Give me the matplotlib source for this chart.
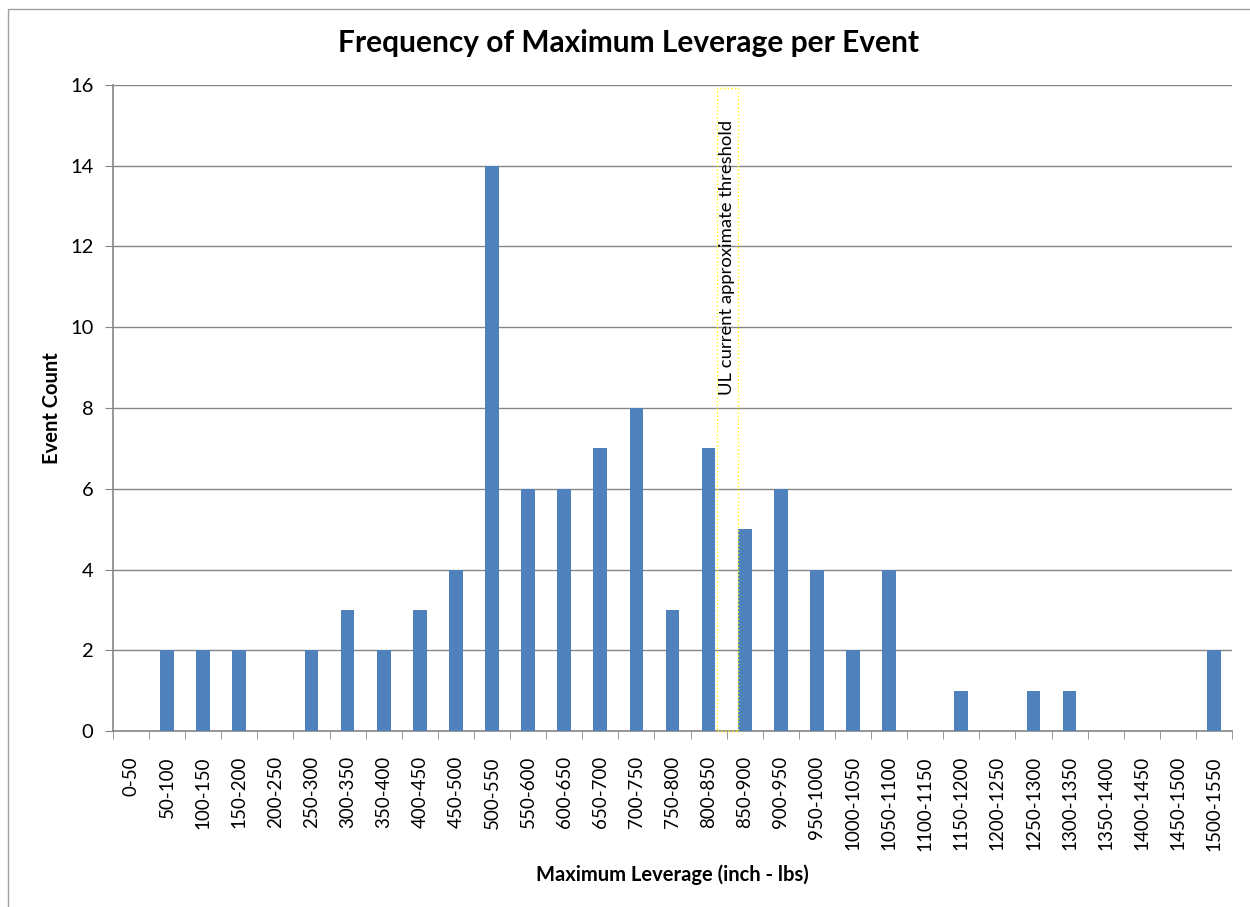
import numpy as np
import matplotlib.pyplot as plt
from matplotlib.patches import Rectangle

plt.rcParams['font.family'] = ['Lato', 'DejaVu Sans']

bins = ['0-50', '50-100', '100-150', '150-200', '200-250', '250-300', '300-350',
        '350-400', '400-450', '450-500', '500-550', '550-600', '600-650', '650-700',
        '700-750', '750-800', '800-850', '850-900', '900-950', '950-1000',
        '1000-1050', '1050-1100', '1100-1150', '1150-1200', '1200-1250',
        '1250-1300', '1300-1350', '1350-1400', '1400-1450', '1450-1500', '1500-1550']
counts = [0, 2, 2, 2, 0, 2, 3, 2, 3, 4, 14, 6, 6, 7, 8, 3, 7, 5, 6, 4,
          2, 4, 0, 1, 0, 1, 1, 0, 0, 0, 2]

fig = plt.figure(figsize=(12.5, 9.07), dpi=100)
ax = fig.add_axes([0.0904, 0.194, 0.8952, 0.7123])

x = np.arange(len(bins))
ax.bar(x, counts, width=0.38, color='#4F81BD', zorder=3)

ax.set_xlim(-0.5, len(bins) - 0.5)
ax.set_ylim(0, 16)
ax.set_yticks(range(0, 17, 2))
ax.set_xticks(x)
ax.set_xticklabels(bins, rotation=90, fontsize=13.5)
ax.set_xticks(np.arange(-0.5, len(bins)), minor=True)
ax.tick_params(axis='x', which='major', length=0, pad=18)
ax.tick_params(axis='x', which='minor', length=6, color='#868686', direction='out')
ax.tick_params(axis='y', length=6, color='#868686', direction='out', labelsize=14.5, pad=8)

ax.yaxis.grid(True, color='#868686', linewidth=1, zorder=0)
for s in ['top', 'right']:
    ax.spines[s].set_visible(False)
for s in ['left', 'bottom']:
    ax.spines[s].set_color('#868686')
    ax.spines[s].set_linewidth(1.2)

fig.text(0.503, 0.953, 'Frequency of Maximum Leverage per Event', fontsize=21.5,
         fontweight='bold', ha='center', va='center')
ax.set_xlabel('Maximum Leverage (inch - lbs)', fontsize=14.5, fontweight='bold', labelpad=10)
ax.set_ylabel('Event Count', fontsize=14.5, fontweight='bold', labelpad=6)

# threshold annotation box
ax.add_patch(Rectangle((16.23, 0), 0.58, 15.93, fill=False, edgecolor='#FFFF00',
                       linestyle=':', linewidth=1, zorder=4, clip_on=False))
ax.text(16.52, 11.74, 'UL current approximate threshold', rotation=90,
        ha='center', va='center', fontsize=13.3, zorder=5)

fig.patches.append(Rectangle((0.006, -0.01), 1.1, 1.0, transform=fig.transFigure,
                             fill=False, edgecolor='#A0A0A0', linewidth=1))

fig.savefig('out.png', dpi=100)
